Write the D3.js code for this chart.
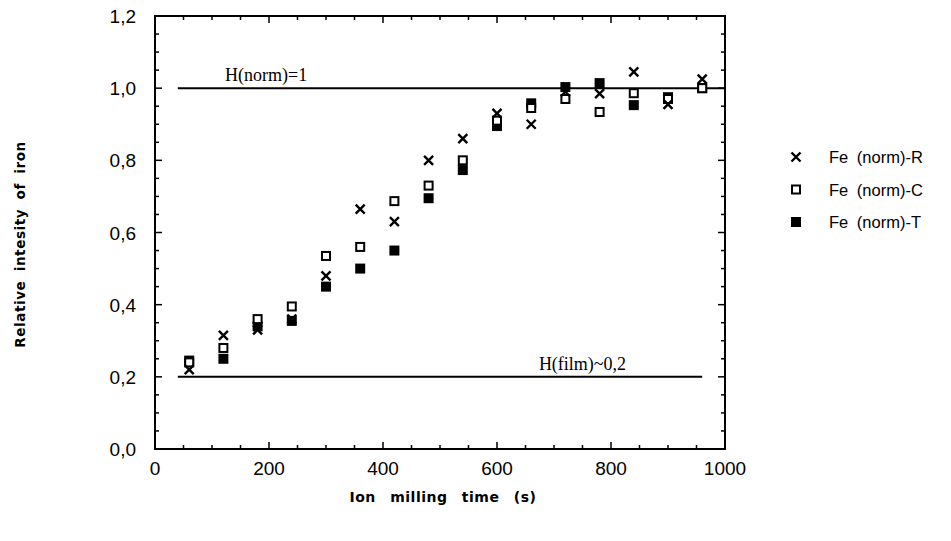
<!DOCTYPE html>
<html>
<head>
<meta charset="utf-8">
<script src="https://cdn.jsdelivr.net/npm/d3@7"></script>
<style>
  body { margin: 0; background: #fff; }
  svg { display: block; }
</style>
</head>
<body>
<div id="chart"></div>
<script>
// milling times (s)
const times = [60, 120, 180, 240, 300, 360, 420, 480, 540, 600, 660, 720, 780, 840, 900, 960];

// relative intensity series
const feR = [0.22, 0.315, 0.33, 0.36, 0.48, 0.665, 0.63, 0.80, 0.86, 0.93, 0.90, 0.99, 0.985, 1.045, 0.955, 1.025];
const feC = [0.24, 0.28, 0.36, 0.395, 0.535, 0.56, 0.687, 0.73, 0.80, 0.91, 0.945, 0.97, 0.934, 0.986, 0.97, 1.0];
const feT = [0.245, 0.25, 0.34, 0.355, 0.45, 0.50, 0.55, 0.695, 0.773, 0.895, 0.958, 1.003, 1.014, 0.953, 0.975, 1.0];

const xTicks = [0, 200, 400, 600, 800, 1000];
const yTicks = [0, 0.2, 0.4, 0.6, 0.8, 1.0, 1.2];

// reference lines
const refLines = [
  { label: "H(norm)=1", y: 1.0, x0: 40, x1: 1000, lx: 195 },
  { label: "H(film)~0,2", y: 0.2, x0: 40, x1: 960, lx: 750 }
];

const legendNames = ["Fe (norm)-R", "Fe (norm)-C", "Fe (norm)-T"];

const width = 951, height = 541;
const margin = { left: 155, right: 226, top: 16, bottom: 92 };

const svg = d3.select("#chart").append("svg")
  .attr("width", width)
  .attr("height", height);

const x = d3.scaleLinear().domain([0, 1000]).range([margin.left, width - margin.right]);
const y = d3.scaleLinear().domain([0, 1.2]).range([height - margin.bottom, margin.top]);

const fmt = d => d3.format(".1f")(d).replace(".", ",");

// frame
svg.append("rect")
  .attr("x", x(0)).attr("y", y(1.2))
  .attr("width", x(1000) - x(0)).attr("height", y(0) - y(1.2))
  .attr("fill", "none").attr("stroke", "#000").attr("stroke-width", 2);

// inward ticks on all four sides
const xMinor = d3.range(0, 1001, 50);
const yMinor = d3.range(0, 1.2001, 0.05);
const tk = svg.append("g").attr("stroke", "#000").attr("stroke-width", 1.5);
xMinor.forEach(v => {
  const len = (Math.round(v) % 200 === 0) ? 7 : 4;
  tk.append("line").attr("x1", x(v)).attr("x2", x(v)).attr("y1", y(0)).attr("y2", y(0) - len);
  tk.append("line").attr("x1", x(v)).attr("x2", x(v)).attr("y1", y(1.2)).attr("y2", y(1.2) + len);
});
yMinor.forEach((v, i) => {
  const len = (i % 4 === 0) ? 7 : 4;
  tk.append("line").attr("y1", y(v)).attr("y2", y(v)).attr("x1", x(0)).attr("x2", x(0) + len);
  tk.append("line").attr("y1", y(v)).attr("y2", y(v)).attr("x1", x(1000)).attr("x2", x(1000) - len);
});

// tick labels
svg.append("g").selectAll("text").data(xTicks).join("text")
  .attr("x", d => x(d)).attr("y", y(0) + 26)
  .attr("text-anchor", "middle")
  .attr("font-family", "Liberation Sans, Arial, sans-serif")
  .attr("font-size", 19)
  .text(d => d);

svg.append("g").selectAll("text").data(yTicks).join("text")
  .attr("x", x(0) - 19).attr("y", d => y(d) + 7)
  .attr("text-anchor", "end")
  .attr("font-family", "Liberation Sans, Arial, sans-serif")
  .attr("font-size", 19)
  .text(fmt);

// axis titles
svg.append("text")
  .attr("transform", `translate(25, ${(y(0) + y(1.2)) / 2 + 12}) rotate(-90)`)
  .attr("text-anchor", "middle")
  .attr("font-family", "DejaVu Sans, sans-serif")
  .attr("font-weight", "bold")
  .attr("font-size", 13.5)
  .attr("letter-spacing", 0.6)
  .attr("word-spacing", 4)
  .text("Relative intesity of iron");

svg.append("text")
  .attr("x", (x(0) + x(1000)) / 2 + 3).attr("y", 502)
  .attr("text-anchor", "middle")
  .attr("font-family", "DejaVu Sans, sans-serif")
  .attr("font-weight", "bold")
  .attr("font-size", 14)
  .attr("letter-spacing", 0.5)
  .attr("word-spacing", 9)
  .text("Ion milling time (s)");

// reference lines
refLines.forEach(r => {
  svg.append("line")
    .attr("x1", x(r.x0)).attr("x2", x(r.x1))
    .attr("y1", y(r.y)).attr("y2", y(r.y))
    .attr("stroke", "#000").attr("stroke-width", 2);
  svg.append("text")
    .attr("x", x(r.lx)).attr("y", y(r.y) - 7)
    .attr("text-anchor", "middle")
    .attr("font-family", "Liberation Serif, Times New Roman, serif")
    .attr("font-size", 18)
    .text(r.label);
});

// markers
const cross = (g, cx, cy) => {
  const s = 4.5;
  g.append("path")
    .attr("d", `M${cx - s},${cy - s}L${cx + s},${cy + s}M${cx - s},${cy + s}L${cx + s},${cy - s}`)
    .attr("stroke", "#000").attr("stroke-width", 2.4).attr("fill", "none");
};
const openSq = (g, cx, cy) => {
  g.append("rect").attr("x", cx - 4).attr("y", cy - 4).attr("width", 8).attr("height", 8)
    .attr("fill", "#fff").attr("stroke", "#000").attr("stroke-width", 2);
};
const fillSq = (g, cx, cy) => {
  g.append("rect").attr("x", cx - 5).attr("y", cy - 5).attr("width", 10).attr("height", 10)
    .attr("fill", "#000");
};

const pts = svg.append("g");
times.forEach((t, i) => fillSq(pts, x(t), y(feT[i])));
times.forEach((t, i) => openSq(pts, x(t), y(feC[i])));
times.forEach((t, i) => cross(pts, x(t), y(feR[i])));

// legend
const leg = svg.append("g");
const markers = [cross, openSq, fillSq];
legendNames.forEach((name, i) => {
  const ly = 157 + i * 32.5;
  markers[i](leg, 796, ly);
  leg.append("text")
    .attr("x", 829).attr("y", ly + 6)
    .attr("font-family", "Liberation Sans, Arial, sans-serif")
    .attr("font-size", 16.5)
    .attr("word-spacing", 4)
    .text(name);
});
</script>
</body>
</html>
